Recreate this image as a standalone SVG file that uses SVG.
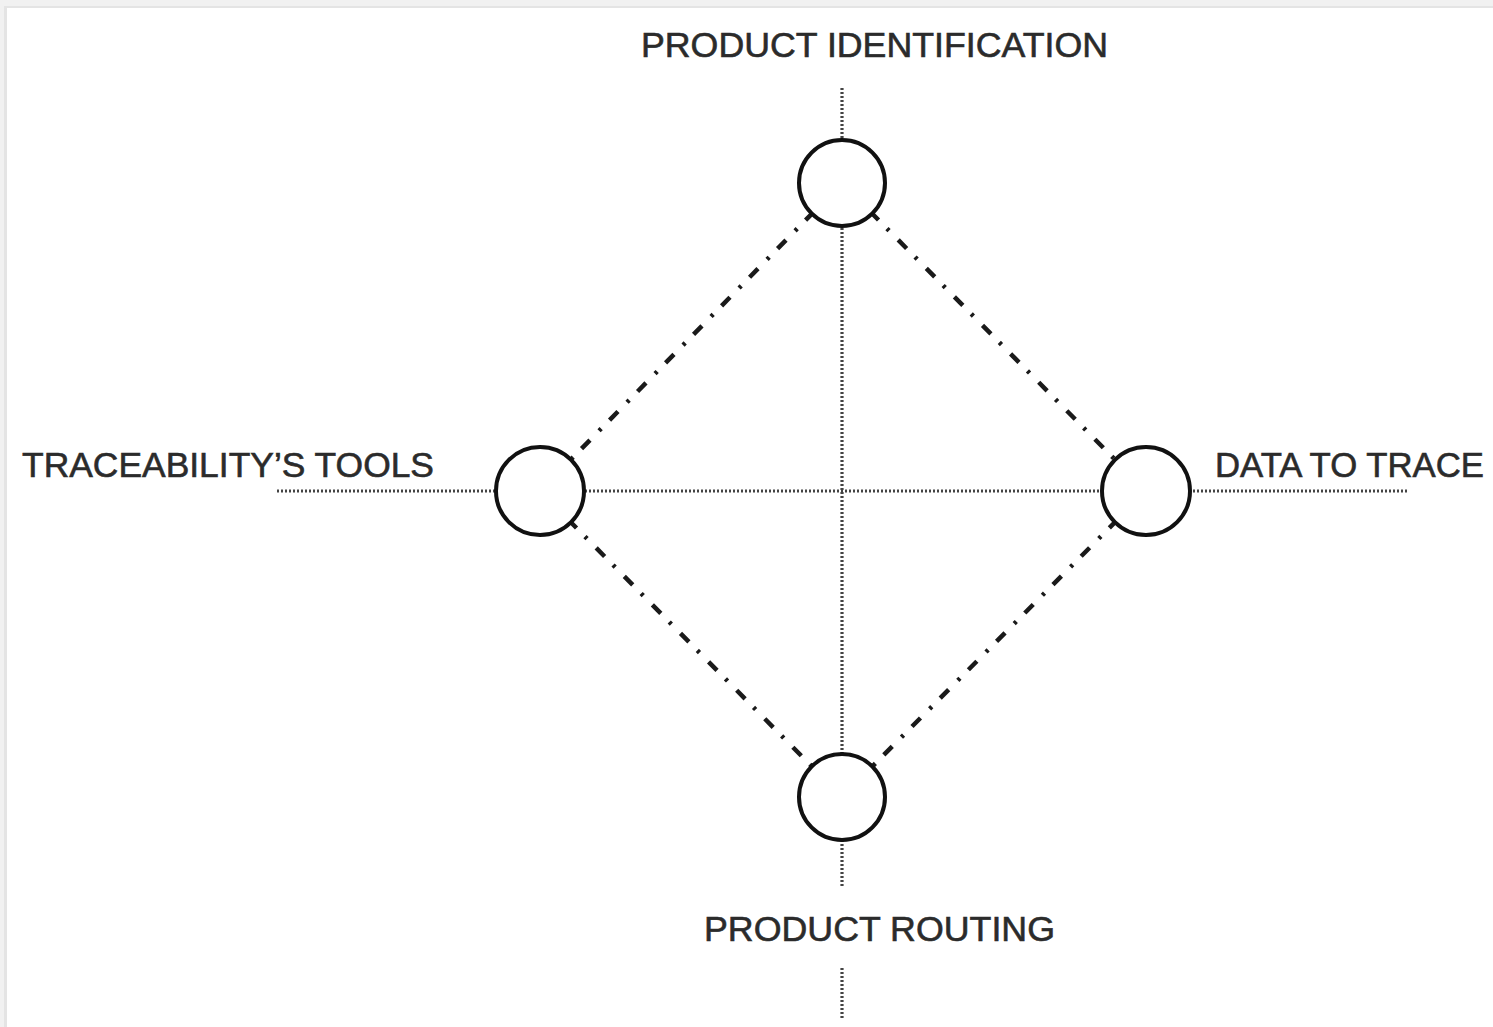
<svg xmlns="http://www.w3.org/2000/svg" width="1493" height="1027" viewBox="0 0 1493 1027">
  <style>
    .label { font-family: "Liberation Sans", Arial, sans-serif; font-size: 35px; fill: #2b2b2b; stroke: #2b2b2b; stroke-width: 0.6; }
    .axis { stroke: #444; stroke-width: 3.2; stroke-dasharray: 2 2; fill: none; }
    .link { stroke: #1a1a1a; stroke-width: 4.5; stroke-dasharray: 12 12 3 13; fill: none; }
    .node { fill: #fff; stroke: #111; stroke-width: 4; }
  </style>
  <rect width="1493" height="1027" fill="#fff"/>
  <!-- frame edges -->
  <rect x="0" y="0" width="1493" height="6" fill="#f1f1f1"/>
  <rect x="0" y="6" width="1493" height="2" fill="#e4e4e4"/>
  <rect x="0" y="0" width="4" height="1027" fill="#f1f1f1"/>
  <rect x="4" y="8" width="3" height="1019" fill="#e4e4e4"/>

  <g id="connectors">
    <!-- axes -->
    <line class="axis" x1="842" y1="88" x2="842" y2="886"/>
    <line class="axis" x1="842" y1="968" x2="842" y2="1018"/>
    <line class="axis" x1="277" y1="491" x2="1407" y2="491"/>
    <!-- diamond -->
    <line class="link" x1="842" y1="183" x2="540" y2="491"/>
    <line class="link" x1="842" y1="183" x2="1146" y2="491"/>
    <line class="link" x1="540" y1="491" x2="842" y2="797"/>
    <line class="link" x1="1146" y1="491" x2="842" y2="797"/>
  </g>

  <g id="node-identification">
    <circle class="node" cx="842" cy="183" r="43"/>
    <text class="label" x="641" y="57" textLength="467" lengthAdjust="spacingAndGlyphs">PRODUCT IDENTIFICATION</text>
  </g>
  <g id="node-tools">
    <circle class="node" cx="540" cy="491" r="44"/>
    <text class="label" x="22" y="477" textLength="412" lengthAdjust="spacingAndGlyphs">TRACEABILITY’S TOOLS</text>
  </g>
  <g id="node-data">
    <circle class="node" cx="1146" cy="491" r="44"/>
    <text class="label" x="1215" y="477" textLength="269" lengthAdjust="spacingAndGlyphs">DATA TO TRACE</text>
  </g>
  <g id="node-routing">
    <circle class="node" cx="842" cy="797" r="43"/>
    <text class="label" x="704" y="941" textLength="351" lengthAdjust="spacingAndGlyphs">PRODUCT ROUTING</text>
  </g>
</svg>
